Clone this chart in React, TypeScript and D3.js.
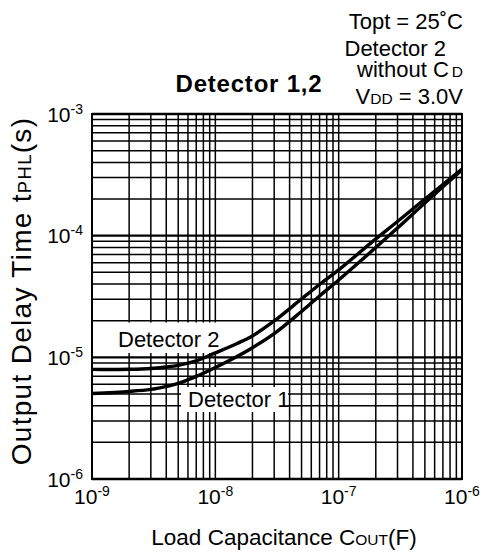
import React from "react";
import * as d3 from "d3";

// Load capacitance (F)
const capValues = [1e-9, 2e-9, 3e-9, 4e-9, 5e-9, 7e-9, 1e-8, 1.5e-8, 2e-8, 3e-8, 5e-8, 7e-8, 1e-7, 2e-7, 3e-7, 5e-7, 1e-6];
// Output delay time tPHL (s)
const det2Delay = [7.955e-6, 7.98e-6, 8.1e-6, 8.34e-6, 8.6e-6, 9.34e-6, 1.087e-5, 1.3e-5, 1.5e-5, 1.99e-5, 3.02e-5, 3.97e-5, 5.23e-5, 9.4e-5, 1.308e-4, 2.0e-4, 3.53e-4];
const det1Delay = [5.05e-6, 5.245e-6, 5.447e-6, 5.766e-6, 6.1e-6, 6.97e-6, 8.26e-6, 1.017e-5, 1.2e-5, 1.565e-5, 2.382e-5, 3.195e-5, 4.325e-5, 7.99e-5, 1.157e-4, 1.857e-4, 3.465e-4];

const xTickValues = [1e-9, 1e-8, 1e-7, 1e-6];
const xTickExps = ["-9", "-8", "-7", "-6"];
const yTickValues = [1e-6, 1e-5, 1e-4, 1e-3];
const yTickExps = ["-6", "-5", "-4", "-3"];

const FONT = "'Liberation Sans', Arial, Helvetica, sans-serif";

export default function App() {
  const L = 92, R = 462, T = 114, B = 479;
  const x = d3.scaleLog().domain([1e-9, 1e-6]).range([L, R]);
  const y = d3.scaleLog().domain([1e-6, 1e-3]).range([B, T]);

  const xGrid = x.ticks();
  const yGrid = y.ticks();
  const isDecade = (v: number) => Math.abs(Math.log10(v) - Math.round(Math.log10(v))) < 1e-6;

  const line = d3
    .line<[number, number]>()
    .x((d) => x(d[0]))
    .y((d) => y(d[1]))
    .curve(d3.curveCatmullRom.alpha(0.5));

  const d1 = line(capValues.map((c, i) => [c, det1Delay[i]] as [number, number])) || "";
  const d2 = line(capValues.map((c, i) => [c, det2Delay[i]] as [number, number])) || "";

  return (
    <svg width={485} height={555} style={{ position: "absolute", left: 0, top: 0, background: "#fff" }} fontFamily={FONT}>
      <rect x={0} y={0} width={485} height={555} fill="#fff" />
      {/* grid */}
      {xGrid.map((v, i) => (
        <line key={"vx" + i} x1={x(v)} x2={x(v)} y1={T} y2={B} stroke="#000" strokeWidth={1.5} />
      ))}
      {yGrid.map((v, i) => (
        <line key={"hy" + i} x1={L} x2={R} y1={y(v)} y2={y(v)} stroke="#000" strokeWidth={isDecade(v) ? 2.4 : 1.5} />
      ))}
      <rect x={L} y={T} width={R - L} height={B - T} fill="none" stroke="#000" strokeWidth={2} />

      {/* label boxes */}
      <rect x={96} y={322.5} width={130} height={30.5} fill="#fff" />
      <rect x={181} y={387} width={107} height={25} fill="#fff" />

      {/* curves */}
      <path d={d2} fill="none" stroke="#000" strokeWidth={3.4} strokeLinejoin="round" />
      <path d={d1} fill="none" stroke="#000" strokeWidth={3.4} strokeLinejoin="round" />

      <text x={118} y={347} fontSize={22}>Detector 2</text>
      <text x={188} y={407} fontSize={22}>Detector 1</text>

      {/* y tick labels */}
      {yTickValues.map((v, i) => (
        <text key={"yt" + i} x={83} y={y(v) + 7.5} fontSize={21} textAnchor="end">
          10<tspan dy={-8} fontSize={14}>{yTickExps[i]}</tspan>
        </text>
      ))}
      {/* x tick labels */}
      {xTickValues.map((v, i) => (
        <text key={"xt" + i} x={x(v)} y={504} fontSize={21} textAnchor="middle">
          10<tspan dy={-8} fontSize={14}>{xTickExps[i]}</tspan>
        </text>
      ))}

      {/* axis titles */}
      <text x={284} y={545} fontSize={22.5} textAnchor="middle">
        Load Capacitance C<tspan fontSize={15.5}>OUT</tspan>(F)
      </text>
      <text transform="translate(31,291) rotate(-90)" fontSize={28} textAnchor="middle" letterSpacing={1.3}>
        Output Delay Time t<tspan fontSize={18.5}>PHL</tspan>(s)
      </text>

      {/* title */}
      <text x={249} y={92} fontSize={24} fontWeight="bold" textAnchor="middle" letterSpacing={0.8}>
        Detector 1,2
      </text>

      {/* conditions */}
      <text x={463} y={29} fontSize={22} textAnchor="end">Topt = 25˚C</text>
      <text x={446} y={55.5} fontSize={22} textAnchor="end">Detector 2</text>
      <text x={463} y={77} fontSize={22} textAnchor="end">
        without C<tspan dx={3} fontSize={15.5}>D</tspan>
      </text>
      <text x={463} y={104} fontSize={22} textAnchor="end">
        V<tspan fontSize={15.5}>DD</tspan> = 3.0V
      </text>
    </svg>
  );
}
